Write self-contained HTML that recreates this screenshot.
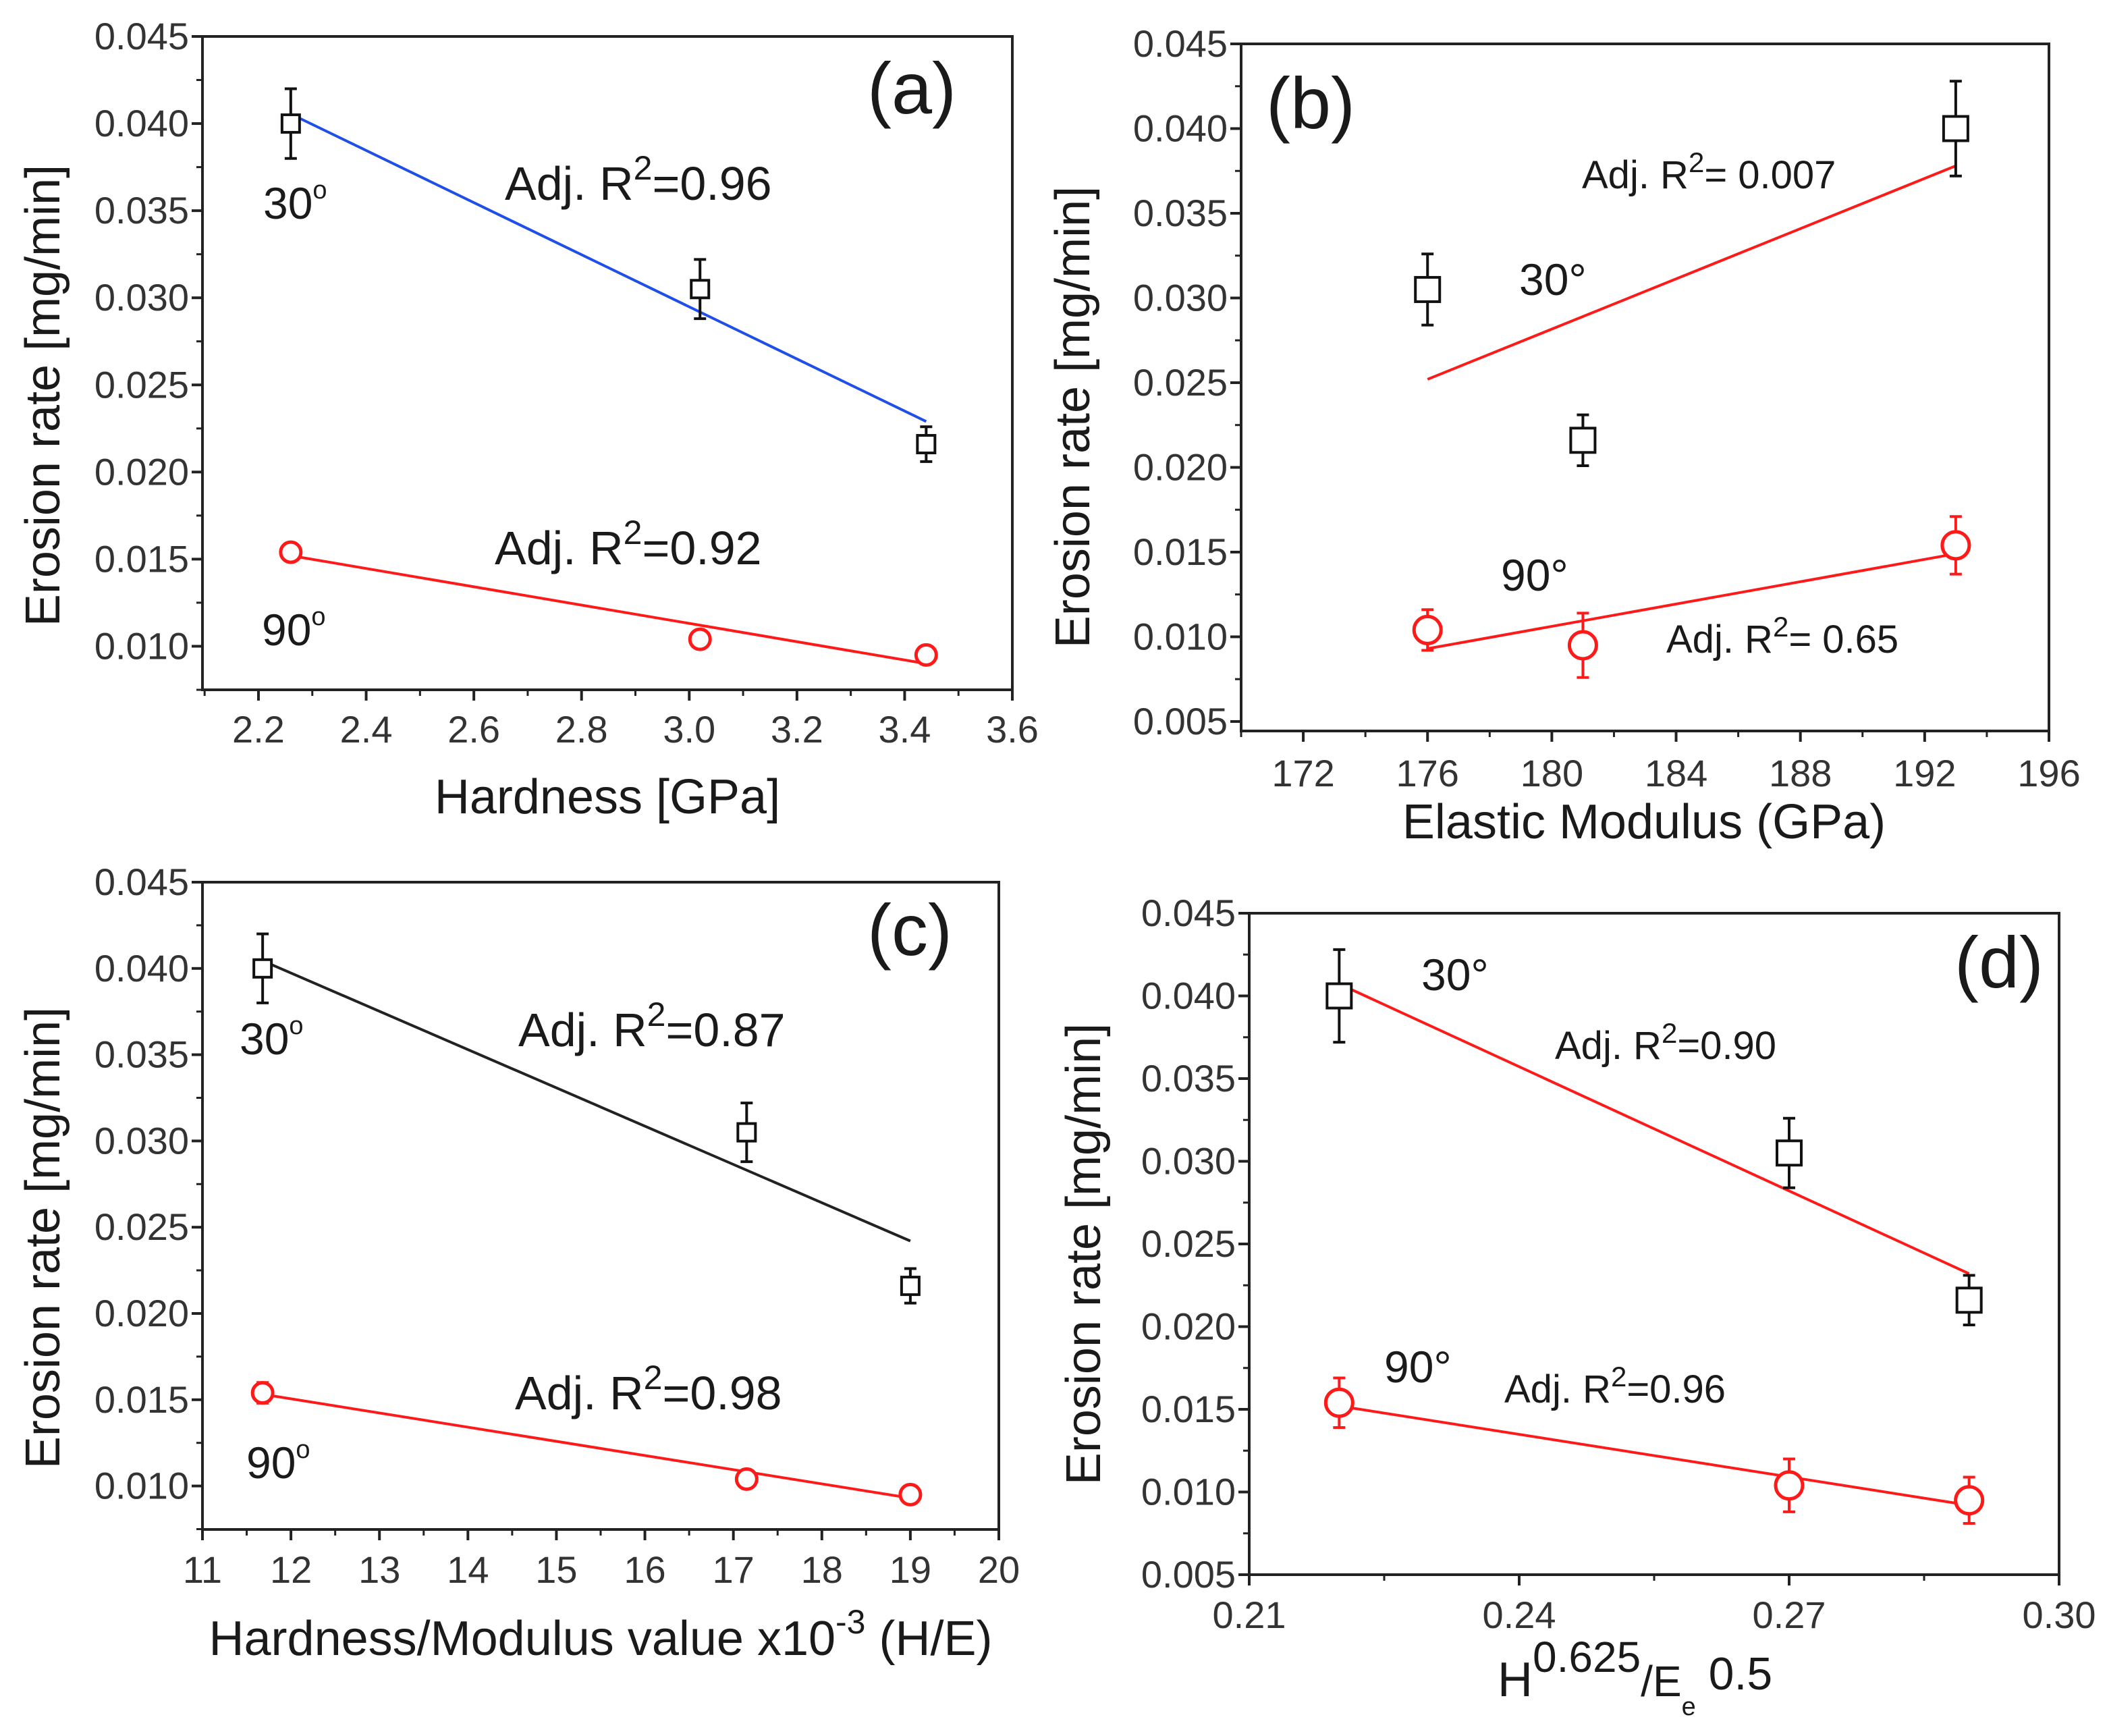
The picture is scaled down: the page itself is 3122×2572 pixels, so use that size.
<!DOCTYPE html>
<html><head><meta charset="utf-8">
<style>
html,body{margin:0;padding:0;background:#fff;}
svg{display:block;}
text{font-family:"Liberation Sans",Arial,sans-serif;}
</style></head>
<body>
<svg id="fig" xmlns="http://www.w3.org/2000/svg" width="3122" height="2572" viewBox="0 0 3122 2572">
<rect width="3122" height="2572" fill="#fff"/>
</svg>
<script>
// ---------- data (panel a) ----------
const aX30 = [2.26, 3.02, 3.44];
const aY30 = [0.0400, 0.0305, 0.0216];
const aE30 = [0.0020, 0.0017, 0.0010];
const aX90 = [2.26, 3.02, 3.44];
const aY90 = [0.0154, 0.0104, 0.0095];
const aE90 = [0.0005, 0.0003, 0.0003];
const aFit30 = [[2.27, 0.0404], [3.44, 0.0229]];
const aFit90 = [[2.26, 0.0152], [3.44, 0.0090]];
// ---------- data (panel b) ----------
const bX30 = [176, 181, 193];
const bY30 = [0.0305, 0.0216, 0.0400];
const bE30 = [0.0021, 0.0015, 0.0028];
const bX90 = [176, 181, 193];
const bY90 = [0.0104, 0.0095, 0.0154];
const bE90 = [0.0012, 0.0019, 0.0017];
const bFit30 = [[176, 0.0252], [193, 0.0378]];
const bFit90 = [[176, 0.0093], [193, 0.0149]];
// ---------- data (panel c) ----------
const cX30 = [11.68, 17.15, 19.0];
const cY30 = [0.0400, 0.0305, 0.0216];
const cE30 = [0.0020, 0.0017, 0.0010];
const cX90 = [11.68, 17.15, 19.0];
const cY90 = [0.0154, 0.0104, 0.0095];
const cE90 = [0.0006, 0.0003, 0.0003];
const cFit30 = [[11.7, 0.0404], [19.0, 0.0242]];
const cFit90 = [[11.7, 0.0153], [19.0, 0.0093]];
// ---------- data (panel d) ----------
const dX30 = [0.220, 0.270, 0.290];
const dY30 = [0.0400, 0.0305, 0.0216];
const dE30 = [0.0028, 0.0021, 0.0015];
const dX90 = [0.220, 0.270, 0.290];
const dY90 = [0.0154, 0.0104, 0.0095];
const dE90 = [0.0015, 0.0016, 0.0014];
const dFit30 = [[0.2205, 0.0406], [0.290, 0.0232]];
const dFit90 = [[0.220, 0.0152], [0.290, 0.0092]];
// ---------- tick labels ----------
const yTicksA = [0.010, 0.015, 0.020, 0.025, 0.030, 0.035, 0.040, 0.045];
const yTicksB = [0.005, 0.010, 0.015, 0.020, 0.025, 0.030, 0.035, 0.040, 0.045];
const xTicksA = [2.2, 2.4, 2.6, 2.8, 3.0, 3.2, 3.4, 3.6];
const xTicksB = [172, 176, 180, 184, 188, 192, 196];
const xTicksC = [11, 12, 13, 14, 15, 16, 17, 18, 19, 20];
const xTicksD = [0.21, 0.24, 0.27, 0.30];

const NS = "http://www.w3.org/2000/svg";
const fig = document.getElementById('fig');
function mk(tag, attrs, parent) {
  const e = document.createElementNS(NS, tag);
  for (const k in attrs) e.setAttribute(k, attrs[k]);
  (parent || fig).appendChild(e);
  return e;
}

function panel(cfg) {
  const g = mk('g', {});
  
  
  const {x0, x1, y0, y1} = cfg.box;
  const sx = v => x0 + (v - cfg.xd[0]) / (cfg.xd[1] - cfg.xd[0]) * (x1 - x0);
  const sy = v => y1 - (v - cfg.yd[0]) / (cfg.yd[1] - cfg.yd[0]) * (y1 - y0);
  const axisCol = '#222';
  const frame = mk('rect', {x: x0, y: y0, width: x1 - x0, height: y1 - y0, fill: 'none', stroke: axisCol, 'stroke-width': 4}, g);
  
  
  const yt = cfg.yt;
  const ystep = yt[1] - yt[0];
  for (let i = 0; i < yt.length; i++) {
    const y = sy(yt[i]);
    mk('line', {x1: x0 - 16, x2: x0, y1: y, y2: y, stroke: axisCol, 'stroke-width': 4}, g);
    const t = mk('text', {x: x0 - 20, y: y + 19, 'text-anchor': 'end', 'font-size': 56, fill: '#333'}, g);
    t.textContent = yt[i].toFixed(3);
    
    
  }
  for (let v = yt[0] - ystep / 2; v <= cfg.yd[1] + 1e-9; v += ystep) {
    if (v < cfg.yd[0] - 1e-9) continue;
    const y = sy(v);
    mk('line', {x1: x0 - 9, x2: x0, y1: y, y2: y, stroke: axisCol, 'stroke-width': 3}, g);
  }
  const xt = cfg.xt;
  const xstep = xt[1] - xt[0];
  for (let i = 0; i < xt.length; i++) {
    const x = sx(xt[i]);
    mk('line', {x1: x, x2: x, y1: y1, y2: y1 + 16, stroke: axisCol, 'stroke-width': 4}, g);
    const t = mk('text', {x: x, y: cfg.xlabY, 'text-anchor': 'middle', 'font-size': 56, fill: '#333'}, g);
    t.textContent = cfg.xfmt(xt[i]);
    
    
  }
  for (let v = xt[0] - xstep / 2; v <= cfg.xd[1] + 1e-9; v += xstep) {
    if (v < cfg.xd[0] - 1e-9) continue;
    const x = sx(v);
    mk('line', {x1: x, x2: x, y1: y1, y2: y1 + 9, stroke: axisCol, 'stroke-width': 3}, g);
  }
  function fit(pts, col, name) {
    const l = mk('line', {x1: sx(pts[0][0]), y1: sy(pts[0][1]), x2: sx(pts[1][0]), y2: sy(pts[1][1]), stroke: col, 'stroke-width': 4}, g);
    
    
  }
  fit(cfg.fit30, cfg.col30, 'fit-line-30deg');
  fit(cfg.fit90, cfg.col90, 'fit-line-90deg');
  function series(xs, ys, es, shape, col, name) {
    for (let i = 0; i < xs.length; i++) {
      const x = sx(xs[i]), y = sy(ys[i]);
      const yt2 = sy(ys[i] + es[i]), yb = sy(ys[i] - es[i]);
      const cap = 9;
      mk('line', {x1: x, x2: x, y1: yt2, y2: yb, stroke: col, 'stroke-width': 4}, g);
      mk('line', {x1: x - cap, x2: x + cap, y1: yt2, y2: yt2, stroke: col, 'stroke-width': 4}, g);
      mk('line', {x1: x - cap, x2: x + cap, y1: yb, y2: yb, stroke: col, 'stroke-width': 4}, g);
      let m;
      if (shape === 'sq') {
        const s = cfg.sq;
        m = mk('rect', {x: x - s / 2, y: y - s / 2, width: s, height: s, fill: '#fff', stroke: col, 'stroke-width': 4}, g);
      } else {
        m = mk('circle', {cx: x, cy: y, r: cfg.cr, fill: '#fff', stroke: col, 'stroke-width': 5}, g);
      }
      
      
    }
  }
  series(cfg.x30, cfg.y30, cfg.e30, 'sq', '#111', 'point-30deg');
  series(cfg.x90, cfg.y90, cfg.e90, 'ci', '#ff1a1a', 'point-90deg');
  return g;
}

panel({id: 'a', box: {x0: 300, x1: 1500, y0: 54, y1: 1022}, xd: [2.096, 3.6], yd: [0.0075, 0.045],
  yt: yTicksA, xt: xTicksA, xfmt: v => v.toFixed(1), xlabY: 1100,
  x30: aX30, y30: aY30, e30: aE30, x90: aX90, y90: aY90, e90: aE90,
  fit30: aFit30, fit90: aFit90, col30: '#1f4fe8', col90: '#ff1a1a', sq: 26, cr: 15});
panel({id: 'b', box: {x0: 1839, x1: 3036, y0: 65, y1: 1083}, xd: [170, 196], yd: [0.00444, 0.045],
  yt: yTicksB, xt: xTicksB, xfmt: v => String(v), xlabY: 1165,
  x30: bX30, y30: bY30, e30: bE30, x90: bX90, y90: bY90, e90: bE90,
  fit30: bFit30, fit90: bFit90, col30: '#ff1a1a', col90: '#ff1a1a', sq: 36, cr: 20});
panel({id: 'c', box: {x0: 300, x1: 1480, y0: 1307, y1: 2266}, xd: [11, 20], yd: [0.00748, 0.045],
  yt: yTicksA, xt: xTicksC, xfmt: v => String(v), xlabY: 2345,
  x30: cX30, y30: cY30, e30: cE30, x90: cX90, y90: cY90, e90: cE90,
  fit30: cFit30, fit90: cFit90, col30: '#222', col90: '#ff1a1a', sq: 26, cr: 15});
panel({id: 'd', box: {x0: 1851, x1: 3051, y0: 1353, y1: 2333}, xd: [0.21, 0.30], yd: [0.005, 0.045],
  yt: yTicksB, xt: xTicksD, xfmt: v => v.toFixed(2), xlabY: 2412,
  x30: dX30, y30: dY30, e30: dE30, x90: dX90, y90: dY90, e90: dE90,
  fit30: dFit30, fit90: dFit90, col30: '#ff1a1a', col90: '#ff1a1a', sq: 36, cr: 20});
</script>
<svg style="position:absolute;left:0;top:0" width="3122" height="2572" xmlns="http://www.w3.org/2000/svg">
<g font-family="Liberation Sans, Arial, sans-serif" fill="#1a1a1a">
<text x="1285" y="168" font-size="108">(a)</text>
<text x="748" y="296" font-size="70">Adj. R<tspan dy="-30" font-size="50">2</tspan><tspan dy="30">=0.96</tspan></text>
<text x="733" y="836" font-size="70">Adj. R<tspan dy="-30" font-size="50">2</tspan><tspan dy="30">=0.92</tspan></text>
<text x="390" y="324" font-size="66">30<tspan dy="-30" font-size="38">o</tspan></text>
<text x="388" y="956" font-size="66">90<tspan dy="-30" font-size="38">o</tspan></text>
<text transform="translate(88,586) rotate(-90)" text-anchor="middle" font-size="72">Erosion rate [mg/min]</text>
<text x="900" y="1205" text-anchor="middle" font-size="72">Hardness [GPa]</text>
<text x="1876" y="190" font-size="108">(b)</text>
<text x="2344" y="279" font-size="58">Adj. R<tspan dy="-24" font-size="42">2</tspan><tspan dy="24">= 0.007</tspan></text>
<text x="2469" y="967" font-size="58">Adj. R<tspan dy="-24" font-size="42">2</tspan><tspan dy="24">= 0.65</tspan></text>
<text x="2251" y="437" font-size="66">30°</text>
<text x="2224" y="875" font-size="66">90°</text>
<text transform="translate(1614,618) rotate(-90)" text-anchor="middle" font-size="72">Erosion rate [mg/min]</text>
<text x="2436" y="1242" text-anchor="middle" font-size="72">Elastic Modulus (GPa)</text>
<text x="1285" y="1415" font-size="108">(c)</text>
<text x="768" y="1550" font-size="70">Adj. R<tspan dy="-30" font-size="50">2</tspan><tspan dy="30">=0.87</tspan></text>
<text x="763" y="2088" font-size="70">Adj. R<tspan dy="-30" font-size="50">2</tspan><tspan dy="30">=0.98</tspan></text>
<text x="355" y="1562" font-size="66">30<tspan dy="-30" font-size="38">o</tspan></text>
<text x="365" y="2190" font-size="66">90<tspan dy="-30" font-size="38">o</tspan></text>
<text transform="translate(88,1834) rotate(-90)" text-anchor="middle" font-size="72">Erosion rate [mg/min]</text>
<text x="890" y="2452" text-anchor="middle" font-size="72">Hardness/Modulus value x10<tspan dy="-32" font-size="50">-3</tspan><tspan dy="32"> (H/E)</tspan></text>
<text x="2896" y="1463" font-size="108">(d)</text>
<text x="2304" y="1569" font-size="58">Adj. R<tspan dy="-24" font-size="42">2</tspan><tspan dy="24">=0.90</tspan></text>
<text x="2229" y="2078" font-size="58">Adj. R<tspan dy="-24" font-size="42">2</tspan><tspan dy="24">=0.96</tspan></text>
<text x="2106" y="1467" font-size="66">30°</text>
<text x="2051" y="2048" font-size="66">90°</text>
<text transform="translate(1630,1858) rotate(-90)" text-anchor="middle" font-size="72">Erosion rate [mg/min]</text>
<text x="2219" y="2513" font-size="72">H<tspan dy="-36" font-size="64">0.625</tspan><tspan dy="36" font-size="64">/E</tspan><tspan dy="28" font-size="38">e</tspan><tspan dy="-38" font-size="68"> 0.5</tspan></text>
</g>
</svg>
</body></html>
